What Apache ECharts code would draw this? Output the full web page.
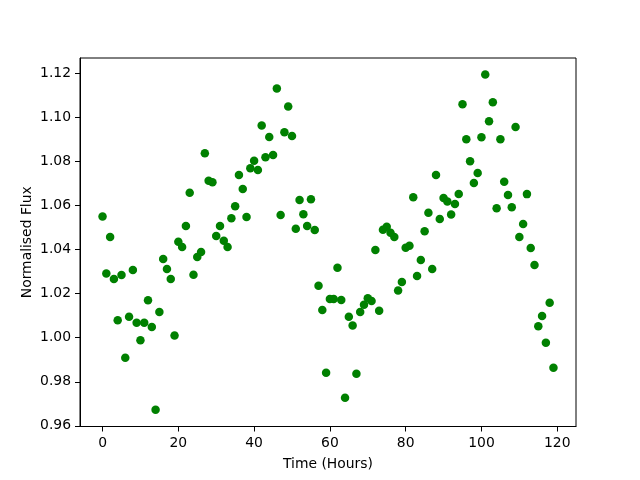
<!DOCTYPE html>
<html>
<head>
<meta charset="utf-8">
<script src="https://cdn.jsdelivr.net/npm/echarts@6.0.0/dist/echarts.min.js"></script>
<style>
    html, body { margin: 0; padding: 0; background: #fff; }
    #chart { width: 640px; height: 480px; }
</style>
</head>
<body>
<div id="chart"></div>
<script>
// light curve readings, one per hour
var hours = [0, 1, 2, 3, 4, 5, 6, 7, 8, 9, 10, 11, 12, 13, 14, 15, 16, 17, 18, 19,
    20, 21, 22, 23, 24, 25, 26, 27, 28, 29, 30, 31, 32, 33, 34, 35, 36, 37, 38, 39,
    40, 41, 42, 43, 44, 45, 46, 47, 48, 49, 50, 51, 52, 53, 54, 55, 56, 57, 58, 59,
    60, 61, 62, 63, 64, 65, 66, 67, 68, 69, 70, 71, 72, 73, 74, 75, 76, 77, 78, 79,
    80, 81, 82, 83, 84, 85, 86, 87, 88, 89, 90, 91, 92, 93, 94, 95, 96, 97, 98, 99,
    100, 101, 102, 103, 104, 105, 106, 107, 108, 109, 110, 111, 112, 113, 114, 115, 116, 117, 118, 119];
var flux = [1.0550, 1.0292, 1.0457, 1.0267, 1.0079, 1.0285, 0.9909, 1.0095, 1.0308, 1.0068,
    0.9989, 1.0068, 1.0170, 1.0049, 0.9673, 1.0117, 1.0357, 1.0312, 1.0267, 1.0010,
    1.0436, 1.0412, 1.0507, 1.0658, 1.0286, 1.0367, 1.0389, 1.0838, 1.0713, 1.0706,
    1.0462, 1.0507, 1.0440, 1.0412, 1.0543, 1.0597, 1.0739, 1.0675, 1.0548, 1.0770,
    1.0803, 1.0761, 1.0964, 1.0819, 1.0911, 1.0830, 1.1132, 1.0557, 1.0933, 1.1050,
    1.0916, 1.0495, 1.0625, 1.0561, 1.0507, 1.0629, 1.0489, 1.0236, 1.0126, 0.9841,
    1.0176, 1.0176, 1.0318, 1.0171, 0.9728, 1.0095, 1.0055, 0.9836, 1.0117, 1.0150,
    1.0179, 1.0167, 1.0398, 1.0122, 1.0490, 1.0504, 1.0477, 1.0457, 1.0214, 1.0253,
    1.0409, 1.0418, 1.0638, 1.0280, 1.0353, 1.0483, 1.0567, 1.0312, 1.0739, 1.0539,
    1.0634, 1.0618, 1.0559, 1.0607, 1.0653, 1.1060, 1.0901, 1.0801, 1.0702, 1.0748,
    1.0910, 1.1195, 1.0983, 1.1069, 1.0588, 1.0901, 1.0708, 1.0648, 1.0592, 1.0957,
    1.0457, 1.0516, 1.0652, 1.0407, 1.0330, 1.0052, 1.0099, 0.9977, 1.0159, 0.9864];
var xTicks = [0, 20, 40, 60, 80, 100, 120];
var yTicks = [0.96, 0.98, 1.00, 1.02, 1.04, 1.06, 1.08, 1.10, 1.12];

(function () {
    var myChart = echarts.init(document.getElementById('chart'));
    var font = 'DejaVu Sans';
    var points = [];
    for (var i = 0; i < hours.length; i++) {
        points.push([hours[i], flux[i]]);
    }
    var option = {
        animation: false,
        backgroundColor: '#fff',
        grid: {
            left: 80,
            top: 58,
            width: 496,
            height: 368.5,
            show: true,
            borderColor: '#000',
            borderWidth: 1,
            backgroundColor: 'transparent'
        },
        xAxis: {
            type: 'value',
            min: -5.95,
            max: 124.95,
            name: 'Time (Hours)',
            nameLocation: 'middle',
            nameGap: 31,
            nameMoveOverlap: false,
            nameTextStyle: { color: '#000', fontFamily: font, fontSize: 13.9 },
            axisLine: { show: true, onZero: false, lineStyle: { color: '#000', width: 1 } },
            axisTick: { show: true, customValues: xTicks, length: 5, lineStyle: { color: '#000' } },
            axisLabel: { customValues: xTicks, margin: 10, color: '#000', fontFamily: font, fontSize: 13.9 },
            splitLine: { show: false }
        },
        yAxis: {
            type: 'value',
            min: 0.9597,
            max: 1.127,
            name: 'Normalised Flux',
            nameLocation: 'middle',
            nameRotate: 90,
            nameGap: 46,
            nameMoveOverlap: false,
            nameTextStyle: { color: '#000', fontFamily: font, fontSize: 13.9 },
            axisLine: { show: true, onZero: false, lineStyle: { color: '#000', width: 1 } },
            axisTick: { show: true, customValues: yTicks, length: 5, lineStyle: { color: '#000' } },
            axisLabel: {
                customValues: yTicks,
                margin: 9,
                color: '#000',
                fontFamily: font,
                fontSize: 13.9,
                formatter: function (v) { return v.toFixed(2); }
            },
            splitLine: { show: false }
        },
        series: [
            {
                type: 'scatter',
                symbol: 'circle',
                symbolSize: 8.5,
                itemStyle: { color: '#008000', opacity: 1 },
                data: points
            }
        ]
    };
    myChart.setOption(option);
})();
</script>
</body>
</html>
